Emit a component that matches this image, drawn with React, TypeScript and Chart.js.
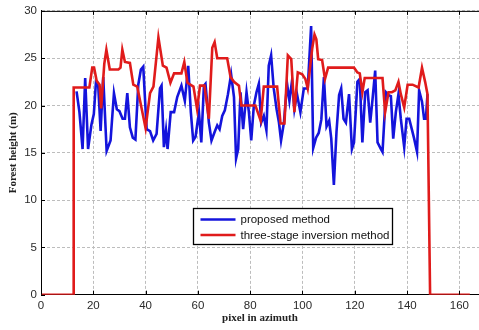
import React, { useEffect, useRef } from 'react';
import { Chart, registerables } from 'chart.js';

Chart.register(...registerables);

// ---- axis settings ----
const xMin = 0;
const xMax = 167.5;
const xStep = 20;
const yMin = 0;
const yMax = 30;
const yStep = 5;
const xTitle = 'pixel in azimuth';
const yTitle = 'Forest height (m)';

// ---- series labels ----
const seriesLabels = ['proposed method', 'three-stage inversion method'];

// ---- proposed method (blue) ----
const proposedX = [
  13.6, 14.7, 15.9, 16.9, 18.0, 19.3, 20.2, 21.0, 21.9, 22.8, 23.8, 25.1, 26.6, 27.9, 29.0, 30.0, 31.2, 32.1, 33.0, 34.0,
  35.1, 36.1, 37.2, 38.2, 39.1, 40.4, 41.7, 42.9, 44.2, 45.5, 46.1, 47.0, 47.8, 48.4, 49.6, 50.9, 52.1, 53.7, 55.0, 56.3,
  57.3, 58.2, 59.1, 60.4, 61.3, 62.3, 62.9, 64.2, 65.2, 66.4, 67.4, 68.3, 69.3, 70.3, 71.5, 72.7, 73.8, 74.6, 75.4, 76.3,
  77.3, 78.6, 79.5, 80.4, 81.4, 82.4, 83.3, 84.2, 85.2, 86.2, 87.1, 88.0, 89.0, 90.1, 91.0, 91.8, 92.9, 94.1, 95.0, 96.0,
  96.9, 97.9, 99.2, 100.5, 102.0, 103.3, 104.1, 105.2, 106.2, 107.2, 108.2, 109.2, 110.2, 111.0, 112.0, 113.0, 114.0,
  114.8, 115.7, 116.6, 117.8, 118.9, 119.7, 121.0, 121.9, 122.9, 124.0, 124.9, 125.9, 126.8, 127.8, 128.7, 130.0, 130.6,
  131.9, 132.9, 133.8, 134.7, 135.7, 136.7, 137.6, 138.9, 139.8, 140.8, 141.8, 142.7, 143.8, 144.6, 145.7, 146.5, 147.2,
  147.8,
];
const proposedY = [
  21.5, 19.3, 15.4, 22.9, 15.4, 18.0, 19.1, 22.4, 22.0, 17.3, 23.0, 15.2, 16.3, 21.3, 19.6, 19.4, 18.6, 18.6, 21.3, 17.7,
  16.6, 16.4, 22.2, 23.8, 24.1, 17.5, 17.3, 16.3, 17.0, 21.8, 22.1, 15.6, 17.4, 15.4, 19.3, 19.3, 20.9, 22.1, 20.5, 24.2,
  19.3, 16.3, 16.7, 19.3, 16.1, 22.1, 22.3, 18.2, 16.3, 17.2, 17.9, 17.5, 18.9, 19.5, 21.2, 23.3, 20.9, 14.4, 15.4, 21.4,
  17.5, 21.4, 19.3, 16.3, 20.0, 21.4, 22.3, 18.2, 18.9, 17.4, 24.2, 25.3, 21.8, 19.6, 18.2, 16.3, 18.2, 22.3, 20.5, 22.6,
  19.6, 21.2, 19.3, 21.8, 21.8, 28.4, 15.5, 16.6, 17.1, 18.5, 23.0, 17.8, 18.4, 16.5, 11.6, 17.2, 21.1,
  21.8, 18.6, 18.2, 21.2, 15.4, 16.1, 22.5, 22.8, 16.1, 21.4, 21.6, 18.2, 20.7, 23.7, 16.1, 15.4, 15.1,
  21.4, 21.1, 21.0, 16.5, 19.3, 21.2, 18.6, 15.6, 18.6, 18.6, 17.5, 16.5, 15.1, 21.6, 20.4, 18.6, 18.6,
  21.2,
];

// ---- three-stage inversion method (red) ----
const threeStageX = [
  0, 12.3, 12.5, 18.5, 19.6, 20.3, 21.3, 22.4, 23.0, 24.2, 25.0, 26.3, 29.6, 30.4, 31.1, 32.1, 34.0, 35.3, 36.8, 40.0,
  41.7, 43.0, 44.9, 46.6, 48.0, 49.5, 50.9, 53.7, 54.8, 56.0, 58.3, 59.7, 60.8, 62.5, 64.2, 65.5, 66.4, 67.4, 71.2, 72.5,
  73.8, 75.7, 76.6, 82.0, 84.0, 85.2, 90.3, 91.6, 93.1, 94.4, 95.7, 96.9, 98.2, 99.9, 101.1, 102.0, 103.7, 104.6, 105.3,
  106.0, 107.5, 108.6, 109.8, 119.7, 121.0, 121.9, 122.9, 123.8, 130.6, 131.6, 132.9, 134.2, 135.5, 136.7, 137.6, 138.9,
  140.2, 142.1, 144.4, 145.7, 146.9, 147.8, 148.8, 164.0,
];
const threeStageY = [
  0, 0, 21.9, 21.9, 24.0, 24.0, 22.6, 22.2, 19.7, 24.4, 25.9, 23.8, 23.8, 24.0, 25.9, 24.6, 24.5, 22.2, 22.0, 17.6,
  21.3, 22.0, 27.2, 24.2, 24.0, 22.4, 23.4, 23.4, 24.6, 22.4, 22.0, 19.6, 22.1, 22.1, 18.6, 26.1, 26.7, 25.0, 25.0, 23.0,
  22.5, 22.1, 20.0, 20.0, 18.4, 22.0, 22.0, 18.1, 18.1, 25.3, 24.9, 19.3, 23.5, 23.3, 22.8, 21.8, 26.0, 27.5, 27.0,
  24.9, 24.8, 22.8, 24.0, 24.0, 23.5, 23.4, 21.4, 22.9, 22.9, 19.3, 21.4, 21.4, 21.6, 22.5, 21.2, 19.8,
  22.2, 22.2, 21.9, 24.0, 22.5, 21.2, 0, 0,
];

// legend anchor (in data units: top-left corner of the legend box)
const legendAnchorX = 58.1;
const legendAnchorY = 9.2;

const BLUE = '#1414dc';
const RED = '#e01b1b';

const toPoints = (xs: number[], ys: number[]) => xs.map((x, i) => ({ x, y: ys[i] }));

const boxPlugin = {
  id: 'matlabBox',
  afterDatasetsDraw(chart: any) {
    const { ctx, chartArea } = chart;
    const xs = chart.scales.x;
    const ys = chart.scales.y;
    ctx.save();
    // top border
    ctx.strokeStyle = '#000';
    ctx.lineWidth = 1;
    ctx.beginPath();
    ctx.moveTo(chartArea.left, chartArea.top + 0.5);
    ctx.lineTo(chartArea.right, chartArea.top + 0.5);
    ctx.stroke();
    // inner ticks
    ctx.beginPath();
    xs.ticks.forEach((t: any) => {
      const px = Math.round(xs.getPixelForValue(t.value)) + 0.5;
      ctx.moveTo(px, chartArea.bottom);
      ctx.lineTo(px, chartArea.bottom - 4);
      ctx.moveTo(px, chartArea.top);
      ctx.lineTo(px, chartArea.top + 4);
    });
    ys.ticks.forEach((t: any) => {
      const py = Math.round(ys.getPixelForValue(t.value)) + 0.5;
      ctx.moveTo(chartArea.left, py);
      ctx.lineTo(chartArea.left + 4, py);
    });
    ctx.stroke();

    // legend box
    const left = Math.round(xs.getPixelForValue(legendAnchorX)) + 0.5;
    const top = Math.round(ys.getPixelForValue(legendAnchorY)) + 0.5;
    ctx.font = '11.5px "Liberation Sans", Arial, sans-serif';
    const items = seriesLabels.map((label, i) => ({ label, color: i === 0 ? BLUE : RED }));
    const textW = Math.max(...items.map((it) => ctx.measureText(it.label).width));
    const w = Math.round(47 + textW + 3);
    const h = 36;
    ctx.fillStyle = '#fff';
    ctx.fillRect(left, top, w, h);
    ctx.strokeStyle = '#000';
    ctx.lineWidth = 1.3;
    ctx.strokeRect(left, top, w, h);
    items.forEach((it, i) => {
      const cy = top + 11 + i * 15.6;
      ctx.strokeStyle = it.color;
      ctx.lineWidth = 2.5;
      ctx.beginPath();
      ctx.moveTo(left + 7, cy);
      ctx.lineTo(left + 42, cy);
      ctx.stroke();
      ctx.fillStyle = '#111';
      ctx.textBaseline = 'middle';
      ctx.textAlign = 'left';
      ctx.fillText(it.label, left + 47, cy + 0.5);
    });
    ctx.restore();
  },
};

export default function App() {
  const canvasRef = useRef<HTMLCanvasElement | null>(null);

  useEffect(() => {
    if (!canvasRef.current) return;
    const tickFont = { family: '"Liberation Sans", Arial, sans-serif', size: 11.5 };
    const titleFont = { family: '"Liberation Serif", "Times New Roman", serif', size: 11, weight: 'bold' as const };
    const chart = new Chart(canvasRef.current, {
      type: 'line',
      data: {
        datasets: [
          {
            label: seriesLabels[0],
            data: toPoints(proposedX, proposedY),
            borderColor: BLUE,
            backgroundColor: BLUE,
            borderWidth: 2.6,
            pointRadius: 0,
            tension: 0,
            order: 2,
          },
          {
            label: seriesLabels[1],
            data: toPoints(threeStageX, threeStageY),
            borderColor: RED,
            backgroundColor: RED,
            borderWidth: 2.6,
            pointRadius: 0,
            tension: 0,
            order: 1,
          },
        ],
      },
      options: {
        animation: false,
        responsive: true,
        maintainAspectRatio: false,
        layout: { padding: { top: 9, right: 0, left: 0, bottom: 0 } },
        plugins: { legend: { display: false }, tooltip: { enabled: false } },
        scales: {
          x: {
            type: 'linear',
            min: xMin,
            max: xMax,
            afterBuildTicks: (scale: any) => {
              scale.ticks = scale.ticks.filter((t: any) => t.value % xStep === 0);
            },
            afterFit: (scale: any) => {
              scale.height = 35.3;
            },
            ticks: { stepSize: xStep, includeBounds: false, font: tickFont, color: '#2a2a2a', padding: 4, maxRotation: 0, autoSkip: false },
            grid: { color: '#bdbdbd', drawTicks: false, lineWidth: 1 },
            border: { display: true, color: '#000', width: 1, dash: [3, 2] },
            title: { display: true, text: xTitle, font: titleFont, color: '#222', padding: { top: 0, bottom: 5 } },
          },
          y: {
            type: 'linear',
            min: yMin,
            max: yMax,
            afterFit: (scale: any) => {
              scale.width = 41;
            },
            ticks: { stepSize: yStep, font: tickFont, color: '#2a2a2a', padding: 4 },
            grid: { color: '#bdbdbd', drawTicks: false, lineWidth: 1 },
            border: { display: true, color: '#000', width: 1, dash: [3, 2] },
            title: { display: true, text: yTitle, font: titleFont, color: '#222', padding: { top: 7, bottom: 0 } },
          },
        },
      },
      plugins: [boxPlugin],
    });
    return () => chart.destroy();
  }, []);

  return (
    <div style={{ position: 'fixed', left: 0, top: 0, width: 479, height: 330, background: '#fff' }}>
      <canvas ref={canvasRef} />
    </div>
  );
}
